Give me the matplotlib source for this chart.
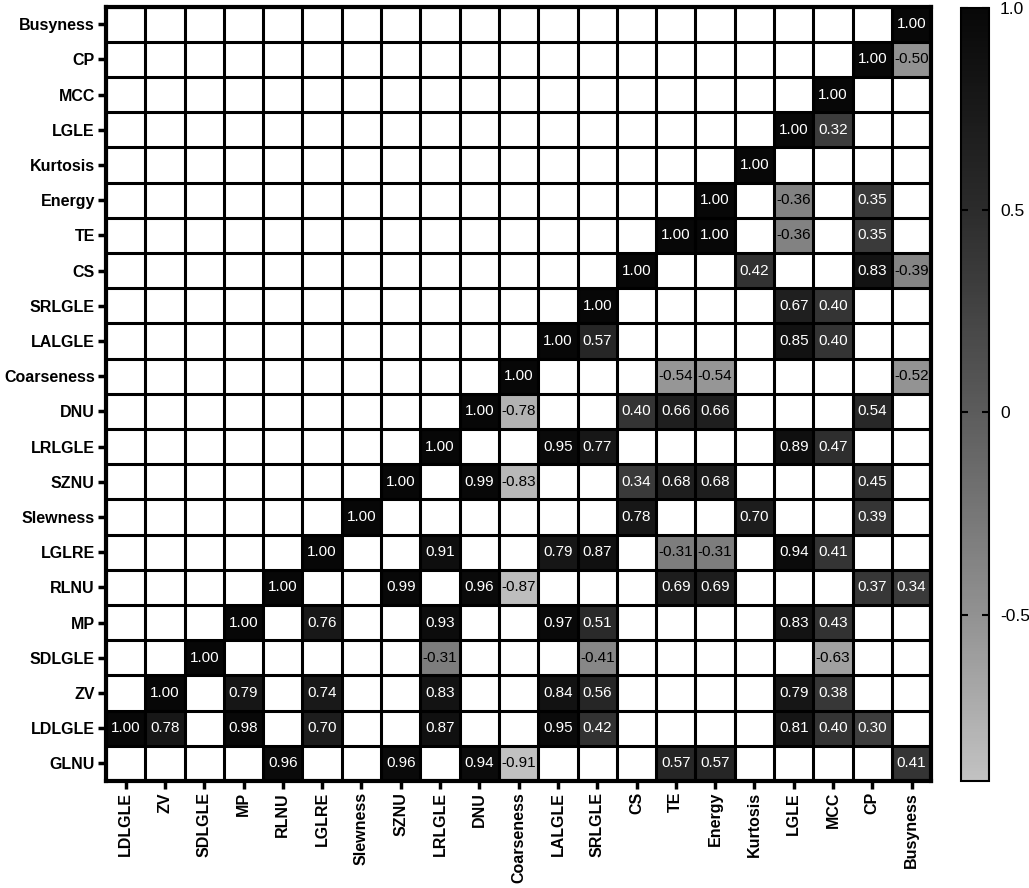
import numpy as np
import matplotlib
matplotlib.use("Agg")
import matplotlib.pyplot as plt
from matplotlib.colors import LinearSegmentedColormap, Normalize

plt.rcParams['font.family'] = ['Liberation Sans', 'DejaVu Sans']

# row labels, top to bottom
row_labels = ["Busyness", "CP", "MCC", "LGLE", "Kurtosis", "Energy", "TE", "CS",
              "SRLGLE", "LALGLE", "Coarseness", "DNU", "LRLGLE", "SZNU", "Slewness",
              "LGLRE", "RLNU", "MP", "SDLGLE", "ZV", "LDLGLE", "GLNU"]

# column labels, left to right
col_labels = ["LDLGLE", "ZV", "SDLGLE", "MP", "RLNU", "LGLRE", "Slewness", "SZNU",
              "LRLGLE", "DNU", "Coarseness", "LALGLE", "SRLGLE", "CS", "TE", "Energy",
              "Kurtosis", "LGLE", "MCC", "CP", "Busyness"]

# shown correlations per row (blank cells are left out)
shown = {
    "Busyness":   {"Busyness": 1.00},
    "CP":         {"CP": 1.00, "Busyness": -0.50},
    "MCC":        {"MCC": 1.00},
    "LGLE":       {"LGLE": 1.00, "MCC": 0.32},
    "Kurtosis":   {"Kurtosis": 1.00},
    "Energy":     {"Energy": 1.00, "LGLE": -0.36, "CP": 0.35},
    "TE":         {"TE": 1.00, "Energy": 1.00, "LGLE": -0.36, "CP": 0.35},
    "CS":         {"CS": 1.00, "Kurtosis": 0.42, "CP": 0.83, "Busyness": -0.39},
    "SRLGLE":     {"SRLGLE": 1.00, "LGLE": 0.67, "MCC": 0.40},
    "LALGLE":     {"LALGLE": 1.00, "SRLGLE": 0.57, "LGLE": 0.85, "MCC": 0.40},
    "Coarseness": {"Coarseness": 1.00, "TE": -0.54, "Energy": -0.54, "Busyness": -0.52},
    "DNU":        {"DNU": 1.00, "Coarseness": -0.78, "CS": 0.40, "TE": 0.66,
                   "Energy": 0.66, "CP": 0.54},
    "LRLGLE":     {"LRLGLE": 1.00, "LALGLE": 0.95, "SRLGLE": 0.77, "LGLE": 0.89, "MCC": 0.47},
    "SZNU":       {"SZNU": 1.00, "DNU": 0.99, "Coarseness": -0.83, "CS": 0.34,
                   "TE": 0.68, "Energy": 0.68, "CP": 0.45},
    "Slewness":   {"Slewness": 1.00, "CS": 0.78, "Kurtosis": 0.70, "CP": 0.39},
    "LGLRE":      {"LGLRE": 1.00, "LRLGLE": 0.91, "LALGLE": 0.79, "SRLGLE": 0.87,
                   "TE": -0.31, "Energy": -0.31, "LGLE": 0.94, "MCC": 0.41},
    "RLNU":       {"RLNU": 1.00, "SZNU": 0.99, "DNU": 0.96, "Coarseness": -0.87,
                   "TE": 0.69, "Energy": 0.69, "CP": 0.37, "Busyness": 0.34},
    "MP":         {"MP": 1.00, "LGLRE": 0.76, "LRLGLE": 0.93, "LALGLE": 0.97,
                   "SRLGLE": 0.51, "LGLE": 0.83, "MCC": 0.43},
    "SDLGLE":     {"SDLGLE": 1.00, "LRLGLE": -0.31, "SRLGLE": -0.41, "MCC": -0.63},
    "ZV":         {"ZV": 1.00, "MP": 0.79, "LGLRE": 0.74, "LRLGLE": 0.83, "LALGLE": 0.84,
                   "SRLGLE": 0.56, "LGLE": 0.79, "MCC": 0.38},
    "LDLGLE":     {"LDLGLE": 1.00, "ZV": 0.78, "MP": 0.98, "LGLRE": 0.70, "LRLGLE": 0.87,
                   "LALGLE": 0.95, "SRLGLE": 0.42, "LGLE": 0.81, "MCC": 0.40, "CP": 0.30},
    "GLNU":       {"RLNU": 0.96, "SZNU": 0.96, "DNU": 0.94, "Coarseness": -0.91,
                   "TE": 0.57, "Energy": 0.57, "Busyness": 0.41},
}

cbar_ticks = [-0.5, 0, 0.5, 1.0]
cbar_ticklabels = ["-0.5", "0", "0.5", "1.0"]

# build matrix
mat = np.full((len(row_labels), len(col_labels)), np.nan)
for i, r in enumerate(row_labels):
    for c, v in shown[r].items():
        mat[i, col_labels.index(c)] = v

vmin, vmax = np.nanmin(mat), np.nanmax(mat)

# gray ramp: light gray at the minimum, black at 1.0
def pos(v):
    return (v - vmin) / (vmax - vmin)

cmap = LinearSegmentedColormap.from_list("grays", [
    (0.0, (0.76, 0.76, 0.76)),
    (pos(-0.5), (0.57, 0.57, 0.57)),
    (pos(0.0), (0.36, 0.36, 0.36)),
    (pos(0.5), (0.17, 0.17, 0.17)),
    (1.0, (0.03, 0.03, 0.03)),
])
cmap.set_bad("white")
norm = Normalize(vmin=vmin, vmax=vmax)

fig = plt.figure(figsize=(10.29, 8.88), dpi=100)
ax = fig.add_axes([0.103, 0.1205, 0.802, 0.872])

im = ax.imshow(np.ma.masked_invalid(mat), cmap=cmap, norm=norm, aspect="auto",
               interpolation="nearest")

# cell labels
for i in range(mat.shape[0]):
    for j in range(mat.shape[1]):
        v = mat[i, j]
        if np.isnan(v):
            continue
        ax.text(j, i, f"{v:.2f}", ha="center", va="center", fontsize=11,
                color="black" if v < 0 else "white")

# grid lines between cells
ax.set_xticks(np.arange(-0.5, mat.shape[1], 1), minor=True)
ax.set_yticks(np.arange(-0.5, mat.shape[0], 1), minor=True)
ax.grid(which="minor", color="black", linewidth=2.2)
ax.tick_params(which="minor", length=0)

ax.set_xticks(np.arange(len(col_labels)))
ax.set_xticklabels(col_labels, rotation=90, fontweight="bold", fontsize=11.5)
ax.set_yticks(np.arange(len(row_labels)))
ax.set_yticklabels(row_labels, fontweight="bold", fontsize=11.5)
ax.tick_params(which="major", length=6, width=2.5, pad=2)
for s in ax.spines.values():
    s.set_linewidth(3)

# colorbar
cax = fig.add_axes([0.934, 0.121, 0.027, 0.870])
cb = fig.colorbar(im, cax=cax, ticks=cbar_ticks)
cb.ax.set_yticklabels(cbar_ticklabels, fontsize=12.5)
cb.ax.tick_params(direction="in", left=True, right=True, length=5, width=1.5, pad=8)
cb.outline.set_linewidth(1.5)

fig.savefig("out.png", dpi=100)
